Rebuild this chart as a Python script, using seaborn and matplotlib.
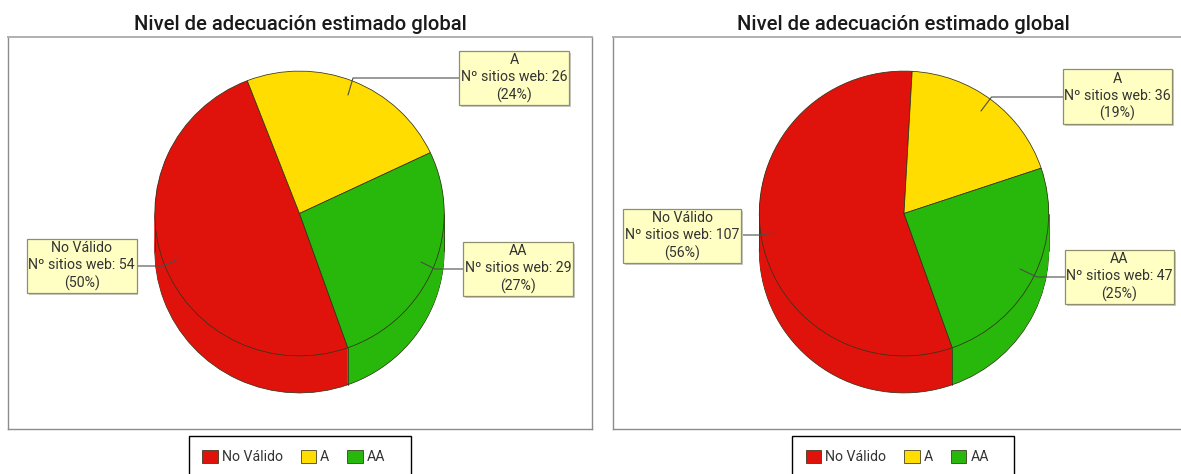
import math
import matplotlib
matplotlib.use("Agg")
import matplotlib.pyplot as plt
from matplotlib.patches import Rectangle
import seaborn as sns

# ---- data ----
title = "Nivel de adecuación estimado global"
categories = ["No Válido", "A", "AA"]
values_left = [54, 26, 29]
values_right = [107, 36, 47]
metric_label = "Nº sitios web"

# ---- style ----
sns.set_theme(style="white")
plt.rcParams["font.family"] = ["Roboto", "DejaVu Sans"]
palette = sns.color_palette(["#E0130C", "#FFDD00", "#28B80C"])

W, H = 1181, 474
SY = 142.7 / 145   # pie is very slightly flattened vertically
R = 144.7
DEPTH = 37
START = -70.5
EDGE = "#33331a"
LW = 0.55

fig = plt.figure(figsize=(W / 100, H / 100), dpi=100, facecolor="white")


def y_(py):
    return (H - py) / SY


def panel(values, box, center, boxes, leaders, title_x, legend_box, right_spine=True):
    l, t, r, b = box
    ax = fig.add_axes([l / W, (H - b) / H, (r - l) / W, (b - t) / H])
    cx, cy = center[0], y_(center[1])
    dep = DEPTH / SY
    kw = dict(colors=palette, startangle=START, counterclock=False, radius=R)
    # side wall: stacked layers of the same pie
    for d in range(DEPTH, 0, -1):
        edge = dict(linewidth=LW, edgecolor=EDGE) if d == DEPTH else dict(linewidth=0)
        ax.pie(values, center=(cx, cy - d / SY), wedgeprops=edge, **kw)
    # silhouette and slice seam on the wall
    a = math.radians(START)
    sx, sy = cx + R * math.cos(a), cy + R * math.sin(a)
    ax.plot([sx, sx], [sy, sy - dep], color=EDGE, lw=LW, zorder=1.5)
    for xe in (cx - R, cx + R):
        ax.plot([xe, xe], [cy, cy - dep], color=EDGE, lw=LW, zorder=1.5)
    wedges, _ = ax.pie(values, center=(cx, cy),
                       wedgeprops=dict(linewidth=LW, edgecolor=EDGE), **kw)
    for w in wedges:
        w.set_zorder(1.6)

    ax.set_aspect("auto")
    ax.set_xlim(l, r)
    ax.set_ylim(y_(b), y_(t))
    ax.set_frame_on(True)
    ax.set_xticks([])
    ax.set_yticks([])
    for name, s in ax.spines.items():
        s.set_color("#8c8c8c")
        s.set_linewidth(1.0)
    ax.spines["top"].set_color("#b0b0b0")
    ax.spines["top"].set_linewidth(1.4)
    ax.spines["right"].set_visible(right_spine)

    total = sum(values)
    for cat, v, bx, ld in zip(categories, values, boxes, leaders):
        ax.plot([p[0] for p in ld], [y_(p[1]) for p in ld], color="#4d4d4d", lw=0.8, zorder=3)
        x0, y0, x1, y1 = bx
        ax.add_patch(Rectangle((x0 + 1.5, y_(y1 + 1.5)), x1 - x0, (y1 - y0) / SY,
                               facecolor="#c9c9c9", edgecolor="none", zorder=4, clip_on=False))
        ax.add_patch(Rectangle((x0, y_(y1)), x1 - x0, (y1 - y0) / SY, facecolor="#FFFFC4",
                               edgecolor="#8f8f70", lw=0.9, zorder=5, clip_on=False))
        ax.text((x0 + x1) / 2, y_((y0 + y1) / 2),
                f"{cat}\n{metric_label}: {v}\n({round(100 * v / total)}%)",
                ha="center", va="center", fontsize=10.15, color="#333333",
                linespacing=1.27, zorder=6)

    fig.text(title_x / W, (H - 25) / H, title, ha="center", va="center",
             fontsize=14.6, fontweight="medium", color="#1a1a1a")

    # legend frame (cut by the lower edge of the picture) and legend itself
    fl, fr = legend_box
    fig.add_artist(Rectangle((fl / W, (H - 480) / H), (fr - fl) / W, 44 / H,
                             transform=fig.transFigure, facecolor="white",
                             edgecolor="black", lw=1.0, zorder=-1))
    leg = ax.legend(wedges, categories, loc="upper left",
                    bbox_to_anchor=((fl + 13.5) / W, (H - 449.5) / H),
                    bbox_transform=fig.transFigure,
                    ncols=3, frameon=False, fontsize=10.2,
                    handlelength=1.1, handleheight=1.1, handletextpad=0.28,
                    columnspacing=1.27, borderpad=0, borderaxespad=0)
    for t_ in leg.get_texts():
        t_.set_color("#333333")
    return ax


panel(values_left, (8, 37, 592, 429), (299.5, 213.5),
      boxes=[(27, 239, 136.5, 293), (459, 51, 569, 105), (463, 242, 573, 296)],
      leaders=[[(178, 259), (163.5, 266), (136, 266)],
               [(348, 95), (353, 78), (459, 78)],
               [(421, 262), (435, 269), (463, 269)]],
      title_x=300, legend_box=(188.5, 411))

panel(values_right, (613, 37, 1181, 429), (904, 213.5),
      boxes=[(623, 209, 741, 263), (1063, 69, 1172, 124), (1065, 250, 1174, 304)],
      leaders=[[(774, 233), (759, 235), (741, 235)],
               [(981, 111), (991.5, 97), (1063, 97)],
               [(1020, 269), (1037, 277), (1065, 277)]],
      title_x=903.5, legend_box=(792, 1014), right_spine=False)

fig.savefig("out.png", dpi=100)
